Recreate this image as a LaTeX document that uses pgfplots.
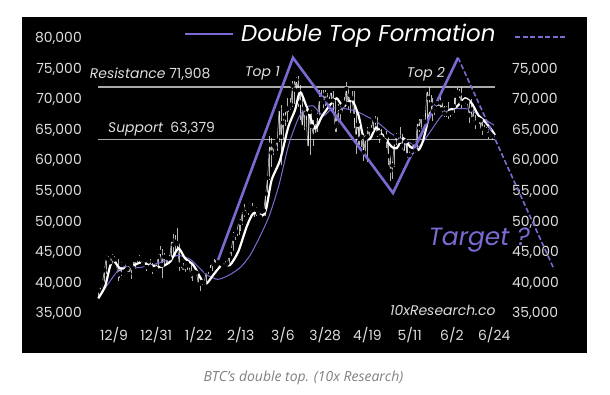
\documentclass[border=0pt]{standalone}
\usepackage{pgfplots}
\usepackage{pgfplotstable}
\pgfplotsset{compat=1.18}
\usepackage{fontspec}
\setmainfont{Poppins}
\newfontfamily\capfont{Open Sans}
\definecolor{pur}{RGB}{124,106,210}
\definecolor{tickc}{RGB}{222,222,222}
\definecolor{refl}{RGB}{170,170,170}
\definecolor{capc}{RGB}{128,128,128}

\pgfplotstableread{
day close lo hi
-8 38700 37600 38800
-7 39450 38650 39700
-6 39970 39300 40200
-5 41980 39950 42400
-4 44080 41400 44400
-3 43770 43350 44300
-2 43290 43100 44000
-1 44170 43100 44700
0 43720 43600 44350
1 43790 43600 44000
2 41240 40300 43800
3 41450 40700 42100
4 42890 41000 43400
5 43020 42800 43400
6 41930 41700 43100
7 42240 41700 42700
8 41360 41250 42400
9 42660 40600 42750
10 42260 42100 43400
11 43650 42200 44200
12 43870 43400 44200
13 43990 43300 44400
14 43740 43600 44000
15 43020 42600 43900
16 43610 42800 43700
17 42520 41800 43600
18 43440 42300 43700
19 42580 42300 43800
20 42070 41300 43100
21 42140 41900 42600
22 42280 41900 42900
23 44180 42200 44200
24 44970 44200 45900
25 42850 40800 45500
26 44180 42600 44800
27 44160 43000 44500
28 43970 43400 44200
29 43930 43200 44500
30 46970 43900 47200
31 46110 44300 47900
32 46630 44300 47700
33 46340 45600 48900
34 42890 41800 46500
35 42850 42400 43200
36 41730 41700 43100
37 42510 41700 43300
38 43150 42100 43600
39 42740 42200 43200
40 41260 40700 42900
41 41620 40300 42100
42 41660 41450 41900
43 41580 41500 41900
44 39570 39450 41700
45 39850 38600 40200
46 40100 39500 40500
47 39930 39500 40300
48 41820 39800 42200
49 42120 41400 42200
50 42030 41800 42800
51 43300 41800 43300
52 42940 42700 43800
53 42580 42300 43700
54 43080 41900 43400
55 43190 42600 43400
56 43000 42900 43400
57 42580 42300 43100
58 42660 42300 43500
59 43090 42600 43400
60 44340 42900 44700
61 45300 44300 45600
62 47150 45200 48200
63 47770 46900 48200
64 48290 47600 48600
65 49960 47700 50300
66 49740 48400 50400
67 51830 49300 52000
68 51300 50700 52800
69 52130 51300 52500
70 51660 51000 52400
71 52120 51500 52200
72 51780 51300 52900
73 52260 50700 52600
74 51850 50900 52400
75 51320 50600 51700
76 50730 50500 51500
77 51570 50700 51700
78 51730 51300 51900
79 54520 50900 54900
80 57090 54400 57600
81 62500 56700 63900
82 61200 58900 63600
83 62400 60800 62500
84 62030 61700 62400
85 63170 61500 63300
86 68330 62900 68500
87 63800 59200 69000
88 66110 63400 67600
89 66930 65600 67900
90 68300 66200 70100
91 68500 67900 68900
92 69020 68200 70100
93 72120 68700 72900
94 71480 69200 72900
95 73100 71300 73600
96 71400 68600 73800
97 69400 66600 72300
98 65320 65000 70000
99 68390 64900 68500
100 67610 66600 68900
101 61930 61600 68000
102 67840 60800 68100
103 65500 65000 68100
104 63800 62300 66600
105 64100 63800 65900
106 67230 64500 67600
107 69960 67200 71500
108 69990 69300 71500
109 69450 68500 71500
110 70740 68900 71500
111 69890 68600 70900
112 69650 69500 70300
113 71330 69600 71400
114 69700 68200 71300
115 65450 64600 69700
116 65980 64600 66800
117 68510 65800 69200
118 67840 66400 69000
119 68900 67600 69000
120 69360 68600 70300
121 71630 69300 72700
122 69140 68200 71700
123 70590 67600 71000
124 70060 69600 71200
125 67200 65300 71200
126 63820 61000 67900
127 65740 62300 65900
128 63430 62400 66800
129 63810 62100 64300
130 61280 59800 64100
131 63510 60800 64100
132 63840 59700 65400
133 64990 63300 65400
134 64930 64600 65700
135 66840 64500 67200
136 66410 65900 67200
137 64290 63800 67100
138 64500 62800 65300
139 63770 63300 65000
140 63460 62900 64200
141 63120 62800 64000
142 63840 61900 64700
143 60640 59200 64000
144 58250 56600 60800
145 59120 56900 59600
146 62890 58800 63300
147 63890 62500 64400
148 64030 62900 64400
149 63160 62900 65400
150 62330 62100 64300
151 61190 60900 62900
152 63050 60800 63200
153 60790 60300 63400
154 60800 60200 61400
155 61460 60800 61800
156 62900 61000 63400
157 61550 61100 63100
158 66270 61400 66400
159 65230 64600 66700
160 67050 65000 67400
161 66940 66600 67400
162 66280 66100 67700
163 71450 66100 71500
164 70140 69200 71900
165 69120 68400 70600
166 67930 66300 70100
167 68530 67300 69200
168 69280 68500 69500
169 68510 68100 69600
170 69390 68500 70600
171 68300 67300 69500
172 67580 67100 68900
173 68360 67100 68800
174 67490 66700 69500
175 67710 67100 67900
176 67750 67400 68400
177 68800 67600 70200
178 70550 68500 71000
179 71080 70400 71700
180 70760 70200 71600
181 69340 68500 71900
182 69300 69100 69500
183 69650 69100 69900
184 69510 69200 70100
185 67310 66100 69500
186 68240 66900 70000
187 66750 66300 68400
188 66010 65100 67300
189 66190 65900 66400
190 66640 65900 67000
191 66490 65100 67200
192 65140 64100 66500
193 64960 64700 65700
194 64830 64600 65400
195 64100 63500 65000
196 64250 63700 64500
197 63900 63200 64300
}\closedata

\pgfplotstableread{
day ma
-8.2 37400
-4.7 39300
-2.1 42570
-0.4 43660
3.1 42300
8.3 42470
13.5 43220
18.8 42840
24 42500
29.2 43380
33.5 45570
37 43940
41.3 42840
45.7 40390
48.3 39850
51.7 41210
56.1 42840
60.4 42840
64.7 45020
69.1 49100
72.6 51290
77.8 51010
79.5 52370
82.1 56730
86.5 60000
90.8 65440
94.3 68170
96.9 71160
100.3 68710
104.7 65180
108.2 67080
112.5 68990
116 70080
119.4 68710
123.8 69800
127.3 67350
129.9 63810
133.3 63430
136.5 65300
140.3 63810
144.6 62180
147.2 61910
150.7 63540
154.2 62180
158.5 61640
161.1 63270
164.6 67630
168.9 68710
174.1 68170
178.5 68710
182.8 70080
186.3 69270
189.7 67350
193.2 66260
196.7 64900
198.4 64090
}\fastdata

\pgfplotstableread{
day ma
-8 37400
-3 39800
4 42500
13 42400
25 43300
33 44400
40 43700
48 41300
54 40500
60 41200
66 42500
71 44500
76 47500
81 51000
86 56000
91 62500
96 66800
100 68600
104 68800
109 67200
114 68500
122 68300
128 67700
137 66200
144 64400
150 63300
155 62700
159 62200
164 64300
170 67000
175 68300
185 68300
191 67000
198 65700
}\slowdata

\begin{document}
\begin{tikzpicture}[x=1bp,y=1bp]
\path[use as bounding box, fill=white] (0,0) rectangle (610,394);
\fill[black] (21.7,41.5) rectangle (587,377.3);

% right-hand tick labels
\begin{axis}[at={(90.96bp,68.15bp)}, anchor=south west, scale only axis,
  width=415.04bp, height=300.49bp,
  xmin=-12, xmax=204.17, ymin=32900, ymax=82000,
  axis line style={draw=none}, tick style={draw=none},
  scaled y ticks=false, scaled x ticks=false,
  xtick=\empty,
  ytick={35000,40000,45000,50000,55000,60000,65000,70000,75000},
  yticklabels={{35,000},{40,000},{45,000},{50,000},{55,000},{60,000},{65,000},{70,000},{75,000}},
  yticklabel pos=right,
  yticklabel style={anchor=base west, inner sep=0pt, xshift=6bp, yshift=-4.9bp,
    font=\fontsize{14}{14}\selectfont, text=tickc},
  clip=false]
\addplot[draw=none] coordinates {(0,50000)};
\end{axis}

\begin{axis}[at={(90.96bp,68.15bp)}, anchor=south west, scale only axis,
  width=476.16bp, height=300.49bp,
  xmin=-12, xmax=236, ymin=32900, ymax=82000,
  axis line style={draw=none}, tick style={draw=none},
  scaled y ticks=false, scaled x ticks=false,
  xtick={0,22,44,66,88,110,132,154,176,198},
  xticklabels={12/9,12/31,1/22,2/13,3/6,3/28,4/19,5/11,6/2,6/24},
  ytick={35000,40000,45000,50000,55000,60000,65000,70000,75000,80000},
  yticklabels={{35,000},{40,000},{45,000},{50,000},{55,000},{60,000},{65,000},{70,000},{75,000},{80,000}},
  yticklabel style={anchor=base east, inner sep=0pt, xshift=-9bp, yshift=-4.9bp,
    font=\fontsize{14}{14}\selectfont, text=tickc},
  xticklabel style={anchor=base, inner sep=0pt, yshift=-14.15bp,
    font=\fontsize{14}{14}\selectfont, text=tickc},
  clip=false]
\addplot[refl, line width=1.4bp] coordinates {(-8.3,71908) (198.4,71908)};
\addplot[refl, line width=1.4bp] coordinates {(-8.3,63379) (198.4,63379)};
\addplot[only marks, mark=none, error bars/.cd, y dir=both, y explicit, error mark=none,
  error bar style={draw=white, line width=0.6bp, opacity=0.7}]
  table[x=day, y=close, y error plus expr=\thisrow{hi}-\thisrow{close},
        y error minus expr=\thisrow{close}-\thisrow{lo}] {\closedata};
\addplot[white, line width=0.5bp, opacity=0.85] table[x=day,y=close] {\closedata};
\addplot[pur, line width=1bp, smooth, tension=0.4] table[x=day,y=ma] {\slowdata};
\addplot[white, line width=2.2bp, smooth, tension=0.4] table[x=day,y=ma] {\fastdata};
\addplot[pur, line width=2.6bp, line join=miter] coordinates {(54.2,43660) (93.2,76716) (145.3,54608) (179.2,76716)};
\addplot[pur, line width=1.6bp, dash pattern=on 5bp off 2.5bp] coordinates {(179.2,76716) (228.9,42353)};
\end{axis}

\draw[pur, line width=1.8bp] (185,360) -- (233,360);
\draw[pur, line width=1.6bp, dash pattern=on 5bp off 2.5bp] (515,357) -- (565,357);
\node[anchor=base west, inner sep=0pt, text=white, font=\fontsize{23}{23}\selectfont\itshape] at (241,352.3) {Double Top Formation};
\node[anchor=base west, inner sep=0pt, text=tickc, font=\fontsize{14}{14}\selectfont] at (89.7,315.7) {\textit{Resistance} 71,908};
\node[anchor=base west, inner sep=0pt, text=tickc, font=\fontsize{14}{14}\selectfont] at (108,261.7) {\textit{Support}\hspace{7bp}63,379};
\node[anchor=base west, inner sep=0pt, text=tickc, font=\fontsize{14}{14}\selectfont\itshape] at (245,317.3) {Top 1};
\node[anchor=base west, inner sep=0pt, text=tickc, font=\fontsize{14}{14}\selectfont\itshape] at (406.7,316.3) {Top 2};
\node[anchor=base west, inner sep=0pt, text=pur, font=\fontsize{25}{25}\selectfont\itshape] at (428.3,149) {Target ?};
\node[anchor=base west, inner sep=0pt, text=tickc, font=\fontsize{14}{14}\selectfont\itshape] at (390,79) {10xResearch.co};
\node[anchor=base, inner sep=0pt, text=capc, font=\capfont\fontsize{14}{14}\selectfont\itshape] at (303.4,13) {BTC’s double top. (10x Research)};
\end{tikzpicture}
\end{document}
